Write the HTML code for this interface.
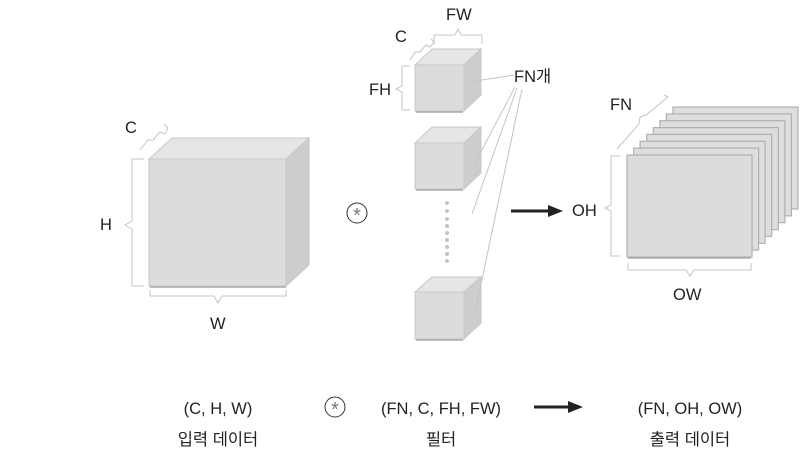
<!DOCTYPE html>
<html><head><meta charset="utf-8"><style>
html,body{margin:0;padding:0;background:#fff;width:806px;height:464px;overflow:hidden}
text{font-family:"Liberation Sans","Noto Sans CJK KR",sans-serif;fill:#222}
</style></head><body>
<svg width="806" height="464" viewBox="0 0 806 464" xmlns="http://www.w3.org/2000/svg">
<g stroke="#c8c8c8" stroke-width="1">
<polygon points="149,159 172,138 309,138 286,159" fill="#e6e6e6"/>
<polygon points="286,159 309,138 309,265 286,286" fill="#cdcdcd"/>
<rect x="149" y="159" width="137" height="127" fill="#dcdcdc"/>
<polygon points="415,65 432,49 481,49 464,65" fill="#e6e6e6"/>
<polygon points="464,65 481,49 481,95 464,111" fill="#cdcdcd"/>
<rect x="415" y="65" width="49" height="46" fill="#dcdcdc"/>
<polygon points="415,143 432,127 481,127 464,143" fill="#e6e6e6"/>
<polygon points="464,143 481,127 481,173 464,189" fill="#cdcdcd"/>
<rect x="415" y="143" width="49" height="46" fill="#dcdcdc"/>
<polygon points="415,292 432,277 481,277 464,292" fill="#e6e6e6"/>
<polygon points="464,292 481,277 481,323 464,339" fill="#cdcdcd"/>
<rect x="415" y="292" width="49" height="47" fill="#dcdcdc"/>
</g>
<g stroke="#b0b0b0" stroke-width="1.2">
<rect x="673" y="107" width="125" height="102" fill="#dedede"/>
<rect x="666.4" y="113.9" width="125" height="102" fill="#dedede"/>
<rect x="659.9" y="120.7" width="125" height="102" fill="#dedede"/>
<rect x="653.3" y="127.6" width="125" height="102" fill="#dedede"/>
<rect x="646.7" y="134.4" width="125" height="102" fill="#dedede"/>
<rect x="640.1" y="141.3" width="125" height="102" fill="#dedede"/>
<rect x="633.6" y="148.1" width="125" height="102" fill="#dedede"/>
<rect x="627" y="155" width="125" height="102" fill="#dcdcdc"/>
</g>
<g stroke="#aaa" stroke-width="1.5" fill="none">
<line x1="150" y1="287" x2="286" y2="287"/><line x1="416" y1="112" x2="463" y2="112"/>
<line x1="416" y1="190" x2="463" y2="190"/><line x1="416" y1="340" x2="463" y2="340"/>
<line x1="628" y1="258" x2="751" y2="258"/>
</g>
<g stroke="#c4c4c4" stroke-width="1" fill="none">
<path d="M144,159 H132 V221 L125,225 L132,229 V286 H144"/>
<path d="M150,290 V296 H214 L218,303 L222,296 H286 V290"/>
<path d="M140,150 L148,140 L153,140 L160,132 L165,134 L168,128 L164,124"/>
<path d="M410,66 H402 V86 L396,89 L402,92 V110 H410"/>
<path d="M434,44 V35 H455 L458,29 L461,35 H482 V44"/>
<path d="M410,60 L415,52 L420,52 L426,45 L430,47 L434,42 L431,39"/>
<path d="M620,156 H611 V205 L605,208 L611,211 V256 H620"/>
<path d="M628,263 V270 H686 L690,276 L694,270 H751 V263"/>
<path d="M617,149 L639,124 L640,117 L646,115 L668,97 L664,95"/>
</g>
<g stroke="#c4c4c4" stroke-width="1">
<line x1="475" y1="81" x2="514" y2="75"/>
<line x1="474" y1="165" x2="515" y2="87"/>
<line x1="472" y1="214" x2="517" y2="88"/>
<line x1="476" y1="308" x2="522" y2="89"/>
</g>
<g fill="#c4c4c4">
<circle cx="447" cy="203" r="2"/><circle cx="447" cy="211" r="2"/><circle cx="447" cy="219" r="2"/><circle cx="447" cy="226" r="2"/><circle cx="447" cy="233" r="2"/><circle cx="447" cy="240" r="2"/><circle cx="447" cy="247" r="2"/><circle cx="447" cy="254" r="2"/><circle cx="447" cy="261" r="2"/>
</g>
<g stroke="#333" stroke-width="1" fill="none">
<circle cx="357" cy="213" r="10"/><circle cx="335" cy="407" r="10"/>
</g>
<text x="357" y="222" font-size="20" text-anchor="middle" style="fill:#777">*</text>
<text x="335" y="416" font-size="20" text-anchor="middle" style="fill:#777">*</text>
<line x1="511" y1="211" x2="550" y2="211" stroke="#222" stroke-width="3"/>
<polygon points="548,205 563,211 548,217" fill="#222"/>
<line x1="534" y1="407" x2="570" y2="407" stroke="#222" stroke-width="3"/>
<polygon points="568,401 583,407 568,413" fill="#222"/>
<g font-size="16.5">
<text x="125" y="133">C</text>
<text x="100" y="230">H</text>
<text x="210" y="329">W</text>
<text x="395" y="42">C</text>
<text x="446" y="20">FW</text>
<text x="369" y="95">FH</text>
<text x="514" y="82">FN개</text>
<text x="610" y="110">FN</text>
<text x="572" y="216">OH</text>
<text x="673" y="300">OW</text>
<text x="218" y="414" text-anchor="middle">(C, H, W)</text>
<text x="441" y="414" text-anchor="middle">(FN, C, FH, FW)</text>
<text x="690" y="414" text-anchor="middle">(FN, OH, OW)</text>
<text x="218" y="445" text-anchor="middle">입력 데이터</text>
<text x="441" y="445" text-anchor="middle">필터</text>
<text x="690" y="445" text-anchor="middle">출력 데이터</text>
</g>
</svg>
</body></html>
